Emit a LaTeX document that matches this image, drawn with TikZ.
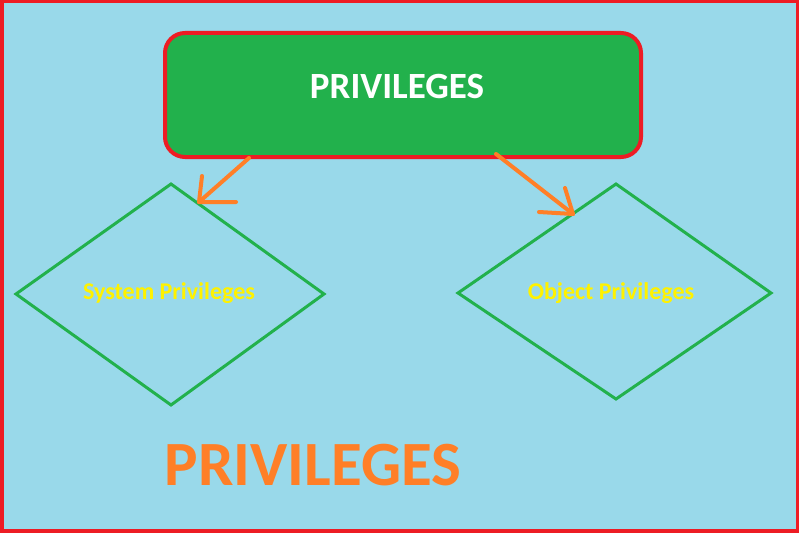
\documentclass[tikz,border=0pt]{standalone}
\usepackage{fontspec}
\setmainfont{Carlito}
\definecolor{bgblue}{HTML}{99D9EA}
\definecolor{pgreen}{HTML}{22B14C}
\definecolor{pred}{HTML}{ED1C24}
\definecolor{porange}{HTML}{FF7F27}
\definecolor{pyellow}{HTML}{FFF200}
\begin{document}
\begin{tikzpicture}[x=1pt,y=-1pt,
  topbox/.style={draw=pred,line width=4pt,fill=pgreen,rounded corners=20pt,minimum width=476pt,minimum height=124pt,inner sep=0pt},
  diam/.style={draw=pgreen,line width=3pt,line join=miter},
  lbl/.style={anchor=base,inner sep=0pt,font=\bfseries\fontsize{24}{28}\selectfont,text=pyellow},
  arr/.style={draw=porange,line width=4pt,line cap=round,line join=round}]
\useasboundingbox (0,0) rectangle (799,535);
\fill[white] (0,0) rectangle (799,535);
\draw[pred,line width=3.5pt,fill=bgblue] (1.75,1.75) rectangle (797.25,531);
% top box
\node[topbox] (box) at (403,95) {};
\node[anchor=base,inner sep=0pt,text=white,font=\bfseries\fontsize{37}{42}\selectfont] (title) at (397,98) {PRIVILEGES};
% diamonds
\coordinate (sT) at (171,184); \coordinate (sL) at (16,294); \coordinate (sB) at (171,405); \coordinate (sR) at (324,294);
\coordinate (oT) at (616,184); \coordinate (oL) at (458,293); \coordinate (oB) at (616,399); \coordinate (oR) at (771,293);
\draw[diam] (sT) -- (sR) -- (sB) -- (sL) -- cycle;
\draw[diam] (oT) -- (oR) -- (oB) -- (oL) -- cycle;
\node[lbl] (sys) at (169,299) {System Privileges};
\node[lbl] (obj) at (611,299) {Object Privileges};
% arrows
\coordinate (a1s) at (249,158); \coordinate (a1t) at (199,202);
\coordinate (a1h1) at (202,176); \coordinate (a1h2) at (236,202);
\coordinate (a2s) at (496,154); \coordinate (a2t) at (573,214);
\coordinate (a2h1) at (565,188); \coordinate (a2h2) at (539,212);
\draw[arr] (a1s) -- (a1t);
\draw[arr] (a1h1) -- (a1t) -- (a1h2);
\draw[arr] (a2s) -- (a2t);
\draw[arr] (a2h1) -- (a2t) -- (a2h2);
% bottom title
\node[anchor=base,inner sep=0pt,text=porange,font=\bfseries\fontsize{63}{72}\selectfont] (big) at (313,485) {PRIVILEGES};
\end{tikzpicture}
\end{document}
